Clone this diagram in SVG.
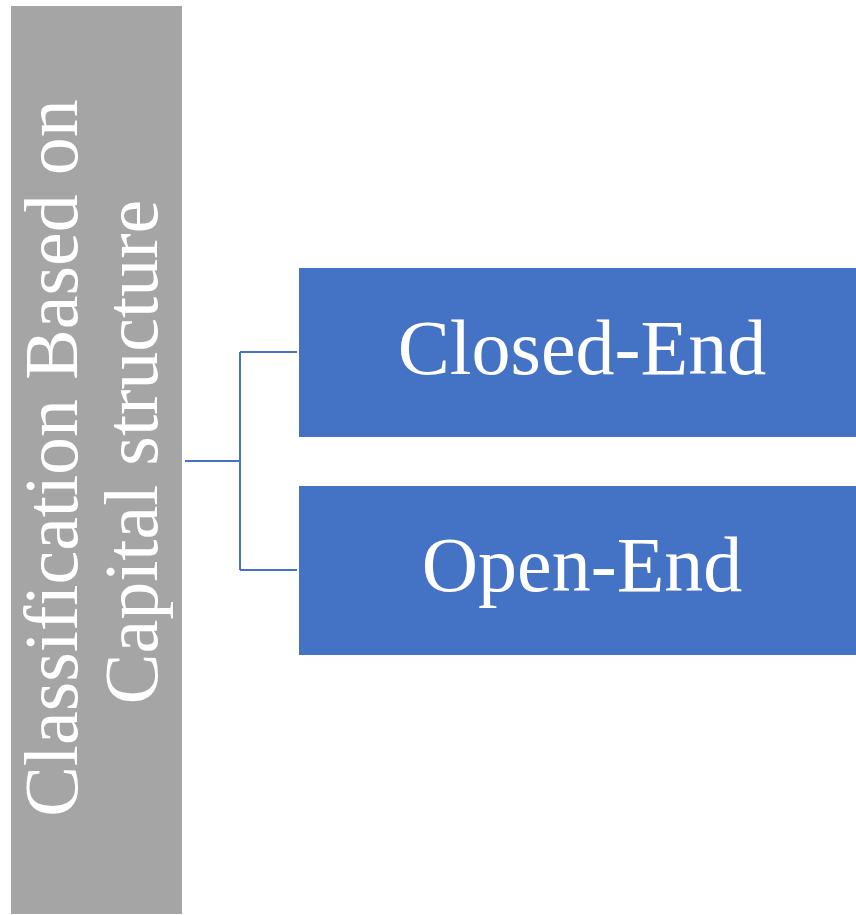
<svg xmlns="http://www.w3.org/2000/svg" width="856" height="915" viewBox="0 0 856 915">
  <style>
    .label { font-family: "Liberation Serif", "Times New Roman", serif; fill: #FFFFFF; text-anchor: middle; }
    .box { fill: #4472C4; stroke: #FFFFFF; stroke-width: 1; }
    .wire { fill: none; stroke: #4472C4; stroke-width: 2; }
  </style>
  <rect width="856" height="915" fill="#FFFFFF"/>

  <!-- Root category, vertical label -->
  <g id="root">
    <rect x="11" y="6" width="171" height="908" fill="#A5A5A5"/>
    <text class="label" font-size="76" transform="translate(77,458) rotate(-90)">Classification Based on</text>
    <text class="label" font-size="76" transform="translate(157,452) rotate(-90)">Capital structure</text>
  </g>

  <!-- Connectors -->
  <g id="connectors">
    <path class="wire" d="M185,461 H240"/>
    <path class="wire" d="M240,352 V570"/>
    <path class="wire" d="M240,352 H297"/>
    <path class="wire" d="M240,570 H297"/>
  </g>

  <!-- Child categories -->
  <g id="closed-end">
    <rect class="box" x="298.5" y="267.5" width="570" height="170"/>
    <text class="label" font-size="78" x="582" y="374">Closed-End</text>
  </g>
  <g id="open-end">
    <rect class="box" x="298.5" y="485.5" width="570" height="170"/>
    <text class="label" font-size="78" x="582" y="591">Open-End</text>
  </g>
</svg>
